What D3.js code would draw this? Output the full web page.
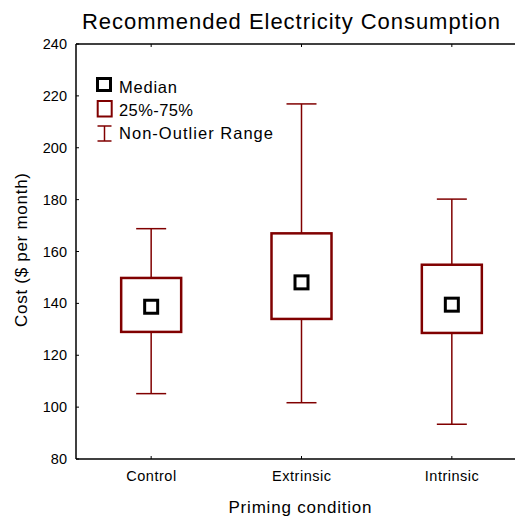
<!DOCTYPE html>
<html><head><meta charset="utf-8">
<script src="https://cdn.jsdelivr.net/npm/d3@7"></script>
<style>body{margin:0;background:#fff}svg{display:block}text{font-family:"Liberation Sans",Arial,sans-serif;fill:#000}</style>
</head><body>
<script>
const categories = ["Control", "Extrinsic", "Intrinsic"];
const medians = [138.7, 148.1, 139.5];
const q1 = [129, 134, 128.6];
const q3 = [149.8, 167, 154.9];
const whiskerLow = [105.2, 101.7, 93.4];
const whiskerHigh = [168.8, 216.9, 180.2];
const yTicks = [80, 100, 120, 140, 160, 180, 200, 220, 240];
const catLabelWidths = [50, 59, 54];

const W = 515, H = 517;
const red = "#800000";
const svg = d3.select("body").append("svg").attr("width", W).attr("height", H);

const x = d3.scaleLinear().domain([0.5, 3.5]).range([76, 527]);
const y = d3.scaleLinear().domain([80, 240]).range([459, 44]);

// frame
svg.append("line").attr("x1", x(0.5)).attr("x2", x(0.5)).attr("y1", y(80)).attr("y2", y(240)).attr("stroke", "#000").attr("stroke-width", 1.5);
svg.append("line").attr("x1", x(0.5)).attr("x2", x(3.5)).attr("y1", y(80)).attr("y2", y(80)).attr("stroke", "#000").attr("stroke-width", 1.5);
svg.append("line").attr("x1", x(0.5)).attr("x2", x(3.5)).attr("y1", y(240)).attr("y2", y(240)).attr("stroke", "#000").attr("stroke-width", 1.5);

// y ticks (inward) and labels
svg.append("g").selectAll("line").data(yTicks).join("line")
  .attr("x1", x(0.5)).attr("x2", x(0.5) + 3).attr("y1", d => y(d)).attr("y2", d => y(d)).attr("stroke", "#000");
svg.append("g").selectAll("text").data(yTicks).join("text")
  .attr("x", 67).attr("y", d => y(d)).attr("dy", "0.35em")
  .attr("text-anchor", "end").style("font-size", "14.5px").text(d => d);

// x ticks bottom & top
categories.forEach((c, i) => {
  const cx = x(i + 1);
  svg.append("line").attr("x1", cx).attr("x2", cx).attr("y1", y(80)).attr("y2", y(80) - 3).attr("stroke", "#000");
  svg.append("line").attr("x1", cx).attr("x2", cx).attr("y1", y(240)).attr("y2", y(240) + 3).attr("stroke", "#000");
  svg.append("text").attr("x", cx).attr("y", 481).attr("text-anchor", "middle").style("font-size", "14.5px")
    .attr("textLength", catLabelWidths[i]).attr("lengthAdjust", "spacing").text(c);
});

const g = svg.append("g");
categories.forEach((c, i) => {
  const cx = x(i + 1);
  g.append("line").attr("x1", cx).attr("x2", cx).attr("y1", y(whiskerHigh[i])).attr("y2", y(q3[i])).attr("stroke", red).attr("stroke-width", 1.5);
  g.append("line").attr("x1", cx).attr("x2", cx).attr("y1", y(q1[i])).attr("y2", y(whiskerLow[i])).attr("stroke", red).attr("stroke-width", 1.5);
  g.append("line").attr("x1", cx - 15).attr("x2", cx + 15).attr("y1", y(whiskerHigh[i])).attr("y2", y(whiskerHigh[i])).attr("stroke", red).attr("stroke-width", 1.5);
  g.append("line").attr("x1", cx - 15).attr("x2", cx + 15).attr("y1", y(whiskerLow[i])).attr("y2", y(whiskerLow[i])).attr("stroke", red).attr("stroke-width", 1.5);
  g.append("rect").attr("x", cx - 30).attr("width", 60).attr("y", y(q3[i])).attr("height", y(q1[i]) - y(q3[i]))
    .attr("fill", "none").attr("stroke", red).attr("stroke-width", 2.5);
  g.append("rect").attr("x", cx - 6.5).attr("width", 13).attr("y", y(medians[i]) - 6.5).attr("height", 13)
    .attr("fill", "#fff").attr("stroke", "#000").attr("stroke-width", 3);
});

// legend
const lg = svg.append("g");
lg.append("rect").attr("x", 97.5).attr("y", 78.5).attr("width", 13).attr("height", 12).attr("fill", "none").attr("stroke", "#000").attr("stroke-width", 3);
lg.append("rect").attr("x", 97.7).attr("y", 101).attr("width", 14).attr("height", 15.5).attr("fill", "none").attr("stroke", red).attr("stroke-width", 2);
lg.append("line").attr("x1", 104.5).attr("x2", 104.5).attr("y1", 126).attr("y2", 141).attr("stroke", red).attr("stroke-width", 1.5);
lg.append("line").attr("x1", 97.5).attr("x2", 111.5).attr("y1", 126).attr("y2", 126).attr("stroke", red).attr("stroke-width", 1.5);
lg.append("line").attr("x1", 97.5).attr("x2", 111.5).attr("y1", 141).attr("y2", 141).attr("stroke", red).attr("stroke-width", 1.5);
[["Median", 92.5, 58], ["25%-75%", 116, 74], ["Non-Outlier Range", 138.5, 154]].forEach(([t, by, w]) => {
  lg.append("text").attr("x", 119).attr("y", by).style("font-size", "16.5px")
    .attr("textLength", w).attr("lengthAdjust", "spacing").text(t);
});

// title & axis labels
svg.append("text").attr("x", 291).attr("y", 29).attr("text-anchor", "middle").style("font-size", "22px")
  .attr("textLength", 418).attr("lengthAdjust", "spacing").text("Recommended Electricity Consumption");
svg.append("text").attr("x", 300).attr("y", 512.5).attr("text-anchor", "middle").style("font-size", "17px")
  .attr("textLength", 143).attr("lengthAdjust", "spacing").text("Priming condition");
svg.append("text").attr("transform", "translate(26.5,250) rotate(-90)").attr("text-anchor", "middle").style("font-size", "17px")
  .attr("textLength", 154).attr("lengthAdjust", "spacing").text("Cost ($ per month)");
</script>
</body></html>
